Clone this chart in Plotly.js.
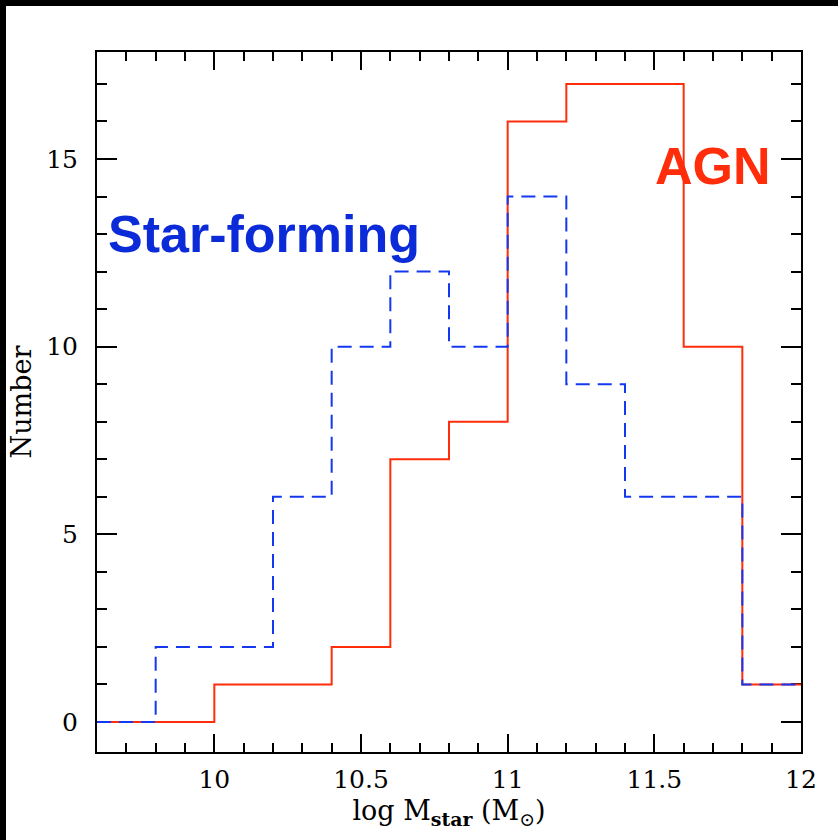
<!DOCTYPE html>
<html>
<head>
<meta charset="utf-8">
<script src="https://cdn.plot.ly/plotly-3.0.1.min.js"></script>
<style>
  html, body { margin: 0; padding: 0; background: #000; width: 838px; height: 840px; overflow: hidden; }
  #chart { position: absolute; left: 6px; top: 6px; width: 832px; height: 834px; background: #fff; }
</style>
</head>
<body>
<div id="chart"></div>
<script>
// Stellar-mass histogram: bin edges in log M_star and counts per 0.2 dex bin
const binEdges = [9.6, 9.8, 10.0, 10.2, 10.4, 10.6, 10.8, 11.0, 11.2, 11.4, 11.6, 11.8, 12.0];
const agnCounts = [0, 0, 1, 1, 2, 7, 8, 16, 17, 17, 10, 1];
const starFormingCounts = [0, 2, 2, 6, 10, 12, 10, 14, 9, 6, 6, 1];

const xTickVals = [10, 10.5, 11, 11.5, 12];
const xTickText = ['10', '10.5', '11', '11.5', '12'];
const yTickVals = [0, 5, 10, 15];
const yTickText = ['0', '5', '10', '15'];

const agnColor = '#ff2d0a';
const sfColor = '#1438f0';
const sfTextColor = '#0c2bd8';

// step outline: repeat the last count so the final bin reaches its right edge
function stepY(counts) { return counts.concat([counts[counts.length - 1]]); }

const traces = [
  {
    x: binEdges, y: stepY(agnCounts), type: 'scatter', mode: 'lines',
    line: { shape: 'hv', color: agnColor, width: 2 },
    name: 'AGN', hoverinfo: 'x+y', cliponaxis: false
  },
  {
    x: binEdges, y: stepY(starFormingCounts), type: 'scatter', mode: 'lines',
    line: { shape: 'hv', color: sfColor, width: 2, dash: '14px,8px' },
    name: 'Star-forming', hoverinfo: 'x+y', cliponaxis: false
  }
];

const tickFont = { family: 'DejaVu Serif', size: 25, color: '#000' };
const titleFont = { family: 'DejaVu Serif', size: 27, color: '#000' };

const layout = {
  width: 832, height: 834,
  margin: { l: 91, r: 37, t: 46, b: 88 },
  paper_bgcolor: '#fff', plot_bgcolor: '#fff',
  showlegend: false,
  xaxis: {
    range: [9.6, 12.0],
    layer: 'below traces',
    showgrid: false, zeroline: false,
    showline: true, linecolor: '#000', linewidth: 2, mirror: 'ticks',
    ticks: 'inside', ticklen: 18, tickwidth: 2, tickcolor: '#000',
    tickvals: xTickVals, ticktext: xTickText,
    minor: { dtick: 0.1, tick0: 9.6, ticks: 'inside', ticklen: 9, tickwidth: 2, tickcolor: '#000', showgrid: false },
    tickfont: tickFont, ticklabelstandoff: 4,
    title: { text: 'log M<sub><b>star</b></sub> (M<sub>⊙</sub>)', font: titleFont, standoff: 8 }
  },
  yaxis: {
    range: [-0.8, 17.85],
    layer: 'below traces',
    showgrid: false, zeroline: false,
    showline: true, linecolor: '#000', linewidth: 2, mirror: 'ticks',
    ticks: 'inside', ticklen: 20, tickwidth: 2, tickcolor: '#000',
    tickvals: yTickVals, ticktext: yTickText,
    minor: { dtick: 1, tick0: 0, ticks: 'inside', ticklen: 10, tickwidth: 2, tickcolor: '#000', showgrid: false },
    tickfont: tickFont, ticklabelstandoff: 12,
    title: { text: 'Number', font: titleFont, standoff: 14 }
  },
  annotations: [
    {
      x: 10.17, y: 13.0, xref: 'x', yref: 'y', text: '<b>Star-forming</b>',
      showarrow: false, xanchor: 'center', yanchor: 'middle',
      font: { family: 'Liberation Sans', size: 52, color: sfTextColor }
    },
    {
      x: 11.70, y: 14.8, xref: 'x', yref: 'y', text: '<b>AGN</b>',
      showarrow: false, xanchor: 'center', yanchor: 'middle',
      font: { family: 'Liberation Sans', size: 52, color: agnColor }
    }
  ]
};

Plotly.newPlot('chart', traces, layout, { displayModeBar: false, staticPlot: true });
</script>
</body>
</html>
